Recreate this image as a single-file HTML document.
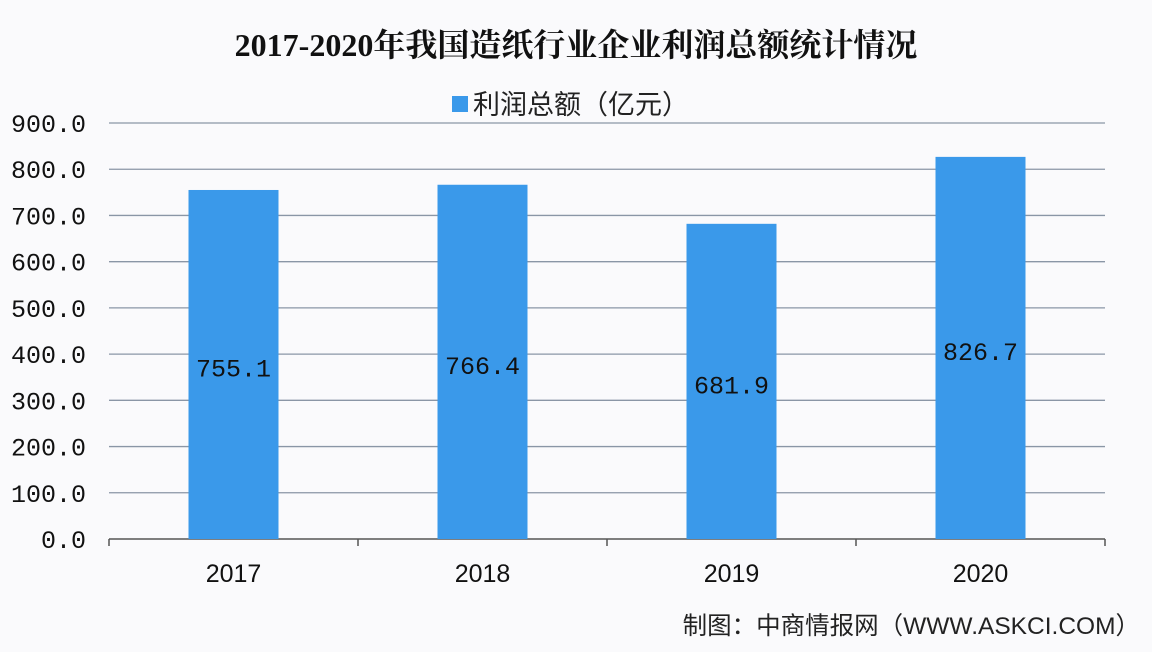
<!DOCTYPE html>
<html><head><meta charset="utf-8">
<style>
html,body{margin:0;padding:0;background:#fafafc;}
svg{display:block;}
</style></head>
<body>
<svg id="chart" width="1152" height="652" viewBox="0 0 1152 652" xmlns="http://www.w3.org/2000/svg">
<rect x="0" y="0" width="1152" height="652" fill="#fafafc"/>
<text x="576" y="56" text-anchor="middle" font-family="'Liberation Serif','Noto Serif CJK SC',serif" font-weight="bold" font-size="32" fill="#111">2017-2020年我国造纸行业企业利润总额统计情况</text>
<g>
<rect x="452" y="96" width="16" height="16" fill="#3a99ea"/>
<text x="473" y="114" font-family="'Liberation Sans','Noto Sans CJK SC',sans-serif" font-size="27" fill="#222">利润总额（亿元）</text>
</g>
<g id="grid"></g>
<g id="bars"></g>
<g id="ylabels"></g>
<g id="xlabels"></g>
<text x="1140" y="634" text-anchor="end" font-family="'Liberation Sans','Noto Sans CJK SC',sans-serif" font-size="24.5" fill="#222">制图：中商情报网（WWW.ASKCI.COM）</text>
</svg>
<script>
const categories = ["2017","2018","2019","2020"];
const values = [755.1, 766.4, 681.9, 826.7];
const valueLabels = ["755.1","766.4","681.9","826.7"];
const yTicks = [0,100,200,300,400,500,600,700,800,900];
const yTickLabels = ["0.0","100.0","200.0","300.0","400.0","500.0","600.0","700.0","800.0","900.0"];

const NS = "http://www.w3.org/2000/svg";
const plotLeft = 109, plotRight = 1105, plotTop = 123, plotBottom = 539, yMax = 900;
const band = (plotRight-plotLeft)/categories.length;
const barW = 90;
function yScale(v){ return plotBottom - (v/yMax)*(plotBottom-plotTop); }
function xc(i){ return plotLeft + band*(i+0.5); }
function mk(tag, attrs, parent){ const e=document.createElementNS(NS,tag); for(const k in attrs) e.setAttribute(k, attrs[k]); parent.appendChild(e); return e; }

const gridG=document.getElementById('grid'), barsG=document.getElementById('bars'),
      ylG=document.getElementById('ylabels'), xlG=document.getElementById('xlabels');

yTicks.forEach((t,i)=>{
  if(t>0){
    const g = mk('line',{x1:plotLeft,x2:plotRight,y1:yScale(t),y2:yScale(t),stroke:'#8a96a6','stroke-width':1.3},gridG);
    
    
  }
  const tl = mk('text',{x:86,y:yScale(t)+9,'text-anchor':'end','font-family':"'Liberation Mono',monospace",'font-size':25,fill:'#111'},ylG);
  tl.textContent = yTickLabels[i];
  
  
});

const ax = mk('line',{x1:plotLeft,x2:plotRight,y1:plotBottom,y2:plotBottom,stroke:'#555','stroke-width':1.5},gridG);


for(let i=0;i<=categories.length;i++){
  const tk = mk('line',{x1:plotLeft+band*i,x2:plotLeft+band*i,y1:plotBottom,y2:plotBottom+7,stroke:'#555','stroke-width':1.5},gridG);
  
  
}

categories.forEach((c,i)=>{
  const by = yScale(values[i]);
  const b = mk('rect',{x:xc(i)-barW/2,y:by,width:barW,height:plotBottom-by,fill:'#3a99ea'},barsG);
  
  
  const vl = mk('text',{x:xc(i),y:by+(plotBottom-by)/2+12,'text-anchor':'middle','font-family':"'Liberation Mono',monospace",'font-size':25,fill:'#111'},barsG);
  vl.textContent = valueLabels[i];
  
  
  const xt = mk('text',{x:xc(i),y:582,'text-anchor':'middle','font-family':"'Liberation Sans',sans-serif",'font-size':25,fill:'#111'},xlG);
  xt.textContent = c;
  
  
});
</script>
</body></html>
